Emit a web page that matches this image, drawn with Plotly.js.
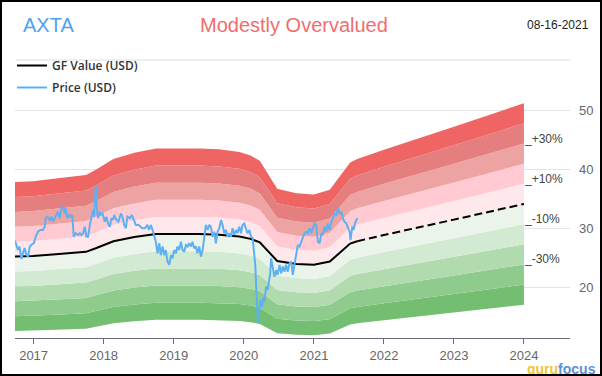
<!DOCTYPE html>
<html><head><meta charset="utf-8">
<script src="https://cdn.plot.ly/plotly-3.0.1.min.js"></script>
<style>
html,body{margin:0;padding:0;background:#fff}
#wrap{position:relative;width:602px;height:376px;overflow:hidden}
#chart{width:602px;height:376px}
#frame{position:absolute;left:0;top:0;width:602px;height:376px;box-sizing:border-box;border:2px solid #000;pointer-events:none}
</style>
</head><body>
<div id="wrap"><div id="chart"></div><div id="frame"></div></div>
<script>
// ---------- data ----------
const ticker = 'AXTA';
const verdict = 'Modestly Overvalued';
const asOf = '08-16-2021';
const yearTicks = ['2017','2018','2019','2020','2021','2022','2023','2024'];
const yTicks = [20, 30, 40, 50];

// GF Value (decimal years / USD)
const gfT = [2016.735, 2016.99, 2017.32, 2017.75, 2017.89, 2018.14, 2018.44, 2018.75, 2019.37, 2019.65, 2019.94, 2020.10, 2020.23, 2020.48, 2020.75, 2021.0, 2021.23, 2021.52, 2021.62];
const gfV = [25.2, 25.3, 25.6, 26.0, 26.6, 27.8, 28.5, 29.0, 29.0, 28.9, 28.6, 28.2, 27.6, 24.45, 23.95, 23.8, 24.35, 27.4, 27.8];
// projected GF Value
const gfProjT = [2021.62, 2022.0, 2023.0, 2024.0];
const gfProjV = [27.8, 28.85, 31.45, 34.1];

// Price (decimal years / USD)
const priceT = [2016.735,2016.778,2016.803,2016.826,2016.850,2016.874,2016.897,2016.921,2016.946,2016.969,2017.003,2017.031,2017.064,2017.097,2017.136,2017.160,2017.174,2017.197,2017.232,2017.255,2017.279,2017.317,2017.350,2017.375,2017.398,2017.422,2017.446,2017.460,2017.483,2017.508,2017.526,2017.555,2017.575,2017.603,2017.636,2017.661,2017.684,2017.708,2017.732,2017.755,2017.779,2017.804,2017.827,2017.851,2017.865,2017.889,2017.908,2017.922,2017.937,2017.955,2017.984,2018.018,2018.041,2018.065,2018.090,2018.113,2018.137,2018.151,2018.184,2018.213,2018.247,2018.270,2018.294,2018.318,2018.341,2018.376,2018.404,2018.437,2018.461,2018.499,2018.533,2018.556,2018.594,2018.627,2018.652,2018.676,2018.699,2018.723,2018.747,2018.770,2018.795,2018.819,2018.842,2018.866,2018.890,2018.913,2018.938,2018.962,2018.985,2019.009,2019.033,2019.056,2019.081,2019.105,2019.128,2019.152,2019.176,2019.199,2019.224,2019.248,2019.271,2019.295,2019.319,2019.342,2019.367,2019.391,2019.414,2019.438,2019.462,2019.485,2019.510,2019.534,2019.557,2019.581,2019.605,2019.628,2019.653,2019.677,2019.700,2019.724,2019.748,2019.771,2019.796,2019.820,2019.843,2019.867,2019.891,2019.914,2019.939,2019.963,2019.986,2020.010,2020.034,2020.057,2020.082,2020.106,2020.129,2020.153,2020.167,2020.178,2020.192,2020.206,2020.225,2020.243,2020.263,2020.282,2020.296,2020.320,2020.343,2020.358,2020.378,2020.392,2020.415,2020.439,2020.463,2020.486,2020.511,2020.535,2020.558,2020.582,2020.606,2020.629,2020.654,2020.678,2020.701,2020.725,2020.749,2020.772,2020.797,2020.821,2020.844,2020.868,2020.892,2020.915,2020.940,2020.964,2020.987,2021.011,2021.035,2021.058,2021.083,2021.107,2021.130,2021.154,2021.178,2021.201,2021.226,2021.250,2021.273,2021.297,2021.321,2021.344,2021.369,2021.393,2021.416,2021.440,2021.464,2021.487,2021.512,2021.526,2021.550,2021.568,2021.587,2021.620];
const priceV = [27.9,26.3,26.9,24.8,25.8,26.65,25.5,25.2,26.9,27.2,27.45,28.55,29.4,29.7,29.7,30.25,31.7,31.95,31.4,31.95,31.1,31.95,32.8,31.7,33.35,33.65,32.5,33.35,31.7,32.25,31.95,32.25,28.55,29.15,28.85,29.15,28.85,29.15,30.25,28.55,28.55,30.55,31.7,33.1,31.95,37.3,32.8,31.7,32.8,32.25,32.5,31.1,31.95,30.8,30.25,31.7,31.4,32.25,31.4,31.1,32.5,31.95,30.55,30.0,31.95,31.7,32.25,31.1,30.55,30.55,30.25,30.0,30.0,30.55,29.7,30.55,29.7,28.55,27.7,25.75,27.45,25.45,26.9,25.45,26.3,24.35,23.8,25.45,24.9,26.3,25.75,26.9,26.3,27.7,26.3,26.0,27.15,26.9,27.45,26.9,27.7,26.6,26.9,25.75,26.9,25.2,26.3,28.3,30.55,29.7,30.55,30.25,28.55,29.4,27.45,29.4,30.0,31.4,30.55,29.15,29.7,28.55,29.15,28.55,30.0,28.85,29.7,29.15,30.25,29.15,30.55,30.8,29.7,29.15,29.7,28.55,28.3,25.75,23.5,20.1,16.7,13.9,16.15,17.85,16.7,18.4,17.55,20.1,19.55,20.7,22.35,24.9,23.5,21.8,22.9,22.1,23.8,22.35,23.5,22.65,23.8,22.65,24.05,24.35,22.1,23.8,26.0,27.15,26.9,27.7,28.55,29.15,29.4,29.15,30.0,29.15,30.0,30.8,30.55,27.7,27.45,29.15,28.85,30.25,29.4,30.8,29.7,31.1,31.7,32.5,32.25,33.35,32.5,32.8,31.7,31.1,30.8,30.25,29.4,28.0,30.25,29.7,30.8,31.7];

// value bands around GF Value (multipliers) and their labels
const bandLevels = [0.5, 0.6, 0.7, 0.8, 0.9, 1.0, 1.1, 1.2, 1.3, 1.4, 1.5];
const bandLabels = ['+30%', '+10%', '-10%', '-30%'];
const bandLabelLevels = [1.3, 1.1, 0.9, 0.7];

// ---------- helpers / styles ----------
function toDate(t){
  const y = Math.floor(t);
  const a = Date.UTC(y,0,1), b = Date.UTC(y+1,0,1);
  return new Date(a + (t-y)*(b-a)).toISOString().slice(0,10);
}
const bandColors = ['#74be72','#8ecb8c','#b1dbaf','#d3ead2','#eaf4ea','#ffe8ec','#ffcad1','#eea3a3','#e57f7f','#ef6563'];
const W=602, H=376, L=15, R=32, T=95, B=38;
const pw=W-L-R, ph=H-T-B;
const px = x => (x-L)/pw, py = y => (H-B-y)/ph;

const allT = gfT.concat(gfProjT.slice(1)).map(toDate);
const allV = gfV.concat(gfProjV.slice(1));

const traces = [];
bandLevels.forEach((m,i)=>{
  traces.push({
    x: allT, y: allV.map(v=>v*m), type:'scatter', mode:'lines',
    line:{width:0, color:'rgba(0,0,0,0)'},
    fill: i===0 ? 'none' : 'tonexty',
    fillcolor: i===0 ? undefined : bandColors[i-1],
    hoverinfo:'skip', showlegend:false
  });
});
traces.push({
  x: gfT.map(toDate), y: gfV, type:'scatter', mode:'lines', name:'GF Value (USD)',
  line:{color:'#000', width:2}, legendgroup:'gf'
});
traces.push({
  x: gfProjT.map(toDate), y: gfProjV, type:'scatter', mode:'lines', showlegend:false,
  line:{color:'#000', width:2, dash:'8px,4px'}, legendgroup:'gf'
});
traces.push({
  x: priceT.map(toDate), y: priceV, type:'scatter', mode:'lines', name:'Price (USD)',
  line:{color:'#5eb0f2', width:2}, legendgroup:'price'
});

const lastV = gfProjV[gfProjV.length-1];
const lastT = toDate(gfProjT[gfProjT.length-1]);
const annotations = [
  {xref:'paper', yref:'paper', x:px(21), y:py(25), xanchor:'left', yanchor:'middle', showarrow:false,
   text:ticker, font:{family:'Liberation Sans, Arial', size:20, color:'#4ea1f3'}},
  {xref:'paper', yref:'paper', x:px(294), y:py(25), xanchor:'center', yanchor:'middle', showarrow:false,
   text:verdict, font:{family:'Liberation Sans, Arial', size:20, color:'#f26d6d'}},
  {xref:'paper', yref:'paper', x:px(591), y:py(25), xanchor:'right', yanchor:'middle', showarrow:false,
   text:asOf, font:{family:'Liberation Sans, Arial', size:12, color:'#222'}},
  {xref:'paper', yref:'paper', x:px(597), y:py(369), xanchor:'right', yanchor:'middle', showarrow:false,
   borderpad:0,
   text:'<span style="color:#f4c240">guru</span><span style="color:#5b8fd6">focus</span>',
   font:{family:'Liberation Sans, Arial', size:14, weight:700}}
];
bandLabels.forEach((lab,i)=>{
  annotations.push({xref:'x', yref:'y', x:lastT, y:lastV*bandLabelLevels[i], xanchor:'left', yanchor:'bottom',
    xshift:-2, yshift:-4, showarrow:false, text:'_'+lab, font:{family:'Liberation Sans, Arial', size:12, color:'#444'}});
});

const layout = {
  width:W, height:H, margin:{l:L, r:R, t:T, b:B, pad:0},
  paper_bgcolor:'#fff', plot_bgcolor:'#fff',
  showlegend:true,
  legend:{x:px(12), y:py(51), xanchor:'left', yanchor:'top', bgcolor:'rgba(0,0,0,0)',
    traceorder:'grouped', tracegroupgap:3,
    font:{family:'Open Sans', size:12, color:'#333', weight:600}, itemwidth:30},
  xaxis:{type:'date', range:[toDate(2016.735), toDate(2024.658)],
    tickvals: yearTicks.map(y=>y+'-01-01'), ticktext: yearTicks,
    showgrid:false, zeroline:false, showline:true, linecolor:'#6b6b7b', linewidth:1,
    ticks:'outside', ticklen:5, tickcolor:'#6b6b7b',
    tickfont:{family:'Liberation Sans, Arial', size:13, color:'#666'}},
  yaxis:{side:'right', range:[50-(H-B-110)/5.91, 50+(110-T)/5.91], tickvals:yTicks,
    showgrid:true, gridcolor:'#e3e3e3', zeroline:false, showline:false, ticks:'',
    ticklabelstandoff:8,
    tickfont:{family:'Liberation Sans, Arial', size:13, color:'#666'}},
  shapes:[{type:'line', xref:'paper', yref:'paper', x0:px(16), x1:px(570), y0:py(60), y1:py(60),
    line:{color:'#dddddd', width:1}}],
  annotations: annotations
};
Plotly.newPlot('chart', traces, layout, {staticPlot:true, displayModeBar:false});
</script>
</body></html>
